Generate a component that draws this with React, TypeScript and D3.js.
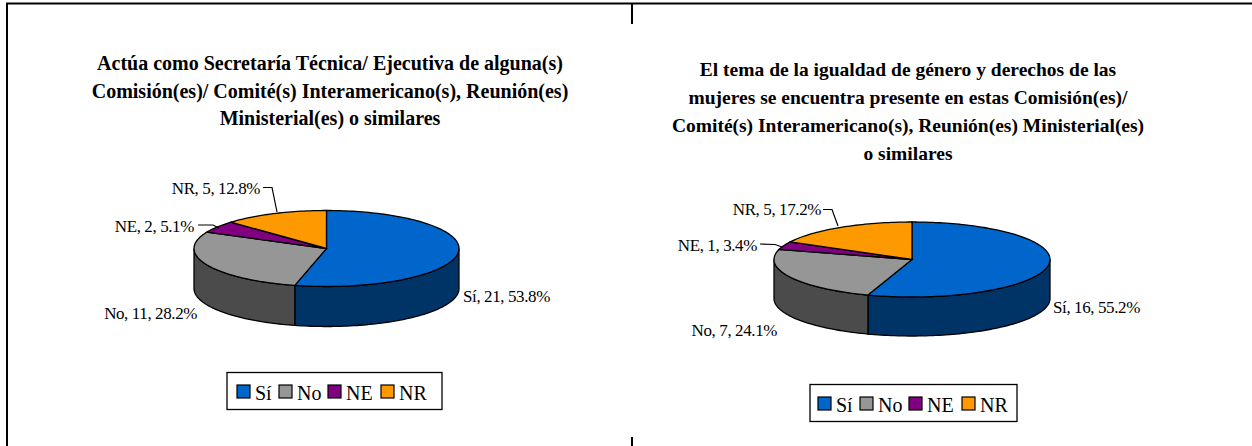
import React from 'react';
import * as d3 from 'd3';

const categories = ['Sí', 'No', 'NE', 'NR'];
const valuesLeft = [21, 11, 2, 5];
const valuesRight = [16, 7, 1, 5];
const pctLeft = ['53.8%', '28.2%', '5.1%', '12.8%'];
const pctRight = ['55.2%', '24.1%', '3.4%', '17.2%'];
const titleLeft = [
  'Actúa como Secretaría Técnica/ Ejecutiva de alguna(s)',
  'Comisión(es)/ Comité(s) Interamericano(s), Reunión(es)',
  'Ministerial(es) o similares',
];
const titleRight = [
  'El tema de la igualdad de género y derechos de las',
  'mujeres se encuentra presente en estas Comisión(es)/',
  'Comité(s) Interamericano(s), Reunión(es) Ministerial(es)',
  'o similares',
];

const topColors = d3.scaleOrdinal<string, string>().domain(categories).range(['#0066cc', '#969696', '#800080', '#ff9900']);
const wallColors = d3.scaleOrdinal<string, string>().domain(categories).range(['#003366', '#4b4b4b', '#400040', '#804c00']);

const font = '"Liberation Serif", serif';

function Pie3D(props: any) {
  const { values, pct, title, titleX, titleY, titleSize, lineGap, cx, cy, rx, ry, depth, labels, leaders, legendX, legendY, legendW, legendPad } = props;
  const slices = d3.pie<number>().sort(null)(values);

  const pt = (a: number, dy = 0): [number, number] => [cx + rx * Math.sin(a), cy - ry * Math.cos(a) + dy];
  const line = d3.line();

  const topPath = (s: any) => {
    const n = Math.max(2, Math.ceil((s.endAngle - s.startAngle) * 40));
    const rim = d3.range(n + 1).map(i => pt(s.startAngle + (s.endAngle - s.startAngle) * i / n));
    return line([[cx, cy], ...rim]) + 'Z';
  };

  // side wall only shows on the front half of the ellipse
  const wallPath = (s: any) => {
    const a0 = Math.max(s.startAngle, Math.PI / 2);
    const a1 = Math.min(s.endAngle, Math.PI * 1.5);
    if (a1 <= a0) return null;
    const n = Math.ceil((a1 - a0) * 40);
    const angles = d3.range(n + 1).map(i => a0 + (a1 - a0) * i / n);
    const upper = angles.map(a => pt(a));
    const lower = angles.slice().reverse().map(a => pt(a, depth));
    return line([...upper, ...lower]) + 'Z';
  };

  const swatchSize = 13;
  const itemX = [0, 42, 91, 144];

  return (
    <g fontFamily={font} fill="#000">
      <g fontSize={titleSize} fontWeight="bold" textAnchor="middle">
        {title.map((t: string, i: number) => (
          <text key={i} x={titleX} y={titleY + i * lineGap}>{t}</text>
        ))}
      </g>
      {slices.map((s, i) => {
        const d = wallPath(s);
        return d ? <path key={i} d={d} fill={wallColors(categories[i])} stroke="#000" strokeWidth={1.3} /> : null;
      })}
      {slices.map((s, i) => (
        <path key={i} d={topPath(s)} fill={topColors(categories[i])} stroke="#000" strokeWidth={1.3} />
      ))}
      {leaders.map((l: [number, number][], i: number) => (
        <path key={i} d={line(l) as string} fill="none" stroke="#000" strokeWidth={1.2} />
      ))}
      <g fontSize={17}>
        {slices.map((s, i) => (
          <text key={i} x={labels[i][0]} y={labels[i][1]} textAnchor={labels[i][2]} letterSpacing={-0.4}>
            {`${categories[i]}, ${s.value}, ${pct[i]}`}
          </text>
        ))}
      </g>
      <rect x={legendX} y={legendY} width={legendW} height={37} fill="#fff" stroke="#000" strokeWidth={1.3} />
      {categories.map((c, i) => (
        <g key={c} transform={`translate(${legendX + legendPad + itemX[i]},${legendY + 12.5})`}>
          <rect width={swatchSize} height={swatchSize} fill={topColors(c)} stroke="#000" strokeWidth={1.2} />
          <text x={18} y={15} fontSize={20}>{c}</text>
        </g>
      ))}
    </g>
  );
}

export default function App() {
  return (
    <svg width={1252} height={446} style={{ position: 'absolute', left: 0, top: 0, background: '#fff' }}>
      <path d="M7,446V3.5H1252" fill="none" stroke="#000" strokeWidth={2} />
      <path d="M632,3V24M632,437V446" fill="none" stroke="#000" strokeWidth={2} />
      <Pie3D
        values={valuesLeft} pct={pctLeft} title={titleLeft}
        titleX={330} titleY={70} titleSize={20} lineGap={27.5}
        cx={326.5} cy={248.5} rx={132.5} ry={38} depth={40}
        labels={[[463, 302, 'start'], [197, 319, 'end'], [194, 232, 'end'], [260, 194, 'end']]}
        leaders={[[[263, 187.5], [272, 187.5], [277, 212]], [[198, 225], [213, 225], [219, 228]]]}
        legendX={227} legendY={372.5} legendW={215} legendPad={10}
      />
      <Pie3D
        values={valuesRight} pct={pctRight} title={titleRight}
        titleX={908} titleY={76} titleSize={19.5} lineGap={28}
        cx={912} cy={259.5} rx={138} ry={37.5} depth={39}
        labels={[[1053, 313, 'start'], [777, 336, 'end'], [757, 251, 'end'], [821, 215, 'end']]}
        leaders={[[[823, 209.5], [832, 209.5], [838, 226]], [[760, 244], [775, 244.5], [782, 247]]]}
        legendX={810} legendY={384.5} legendW={207} legendPad={8}
      />
    </svg>
  );
}
